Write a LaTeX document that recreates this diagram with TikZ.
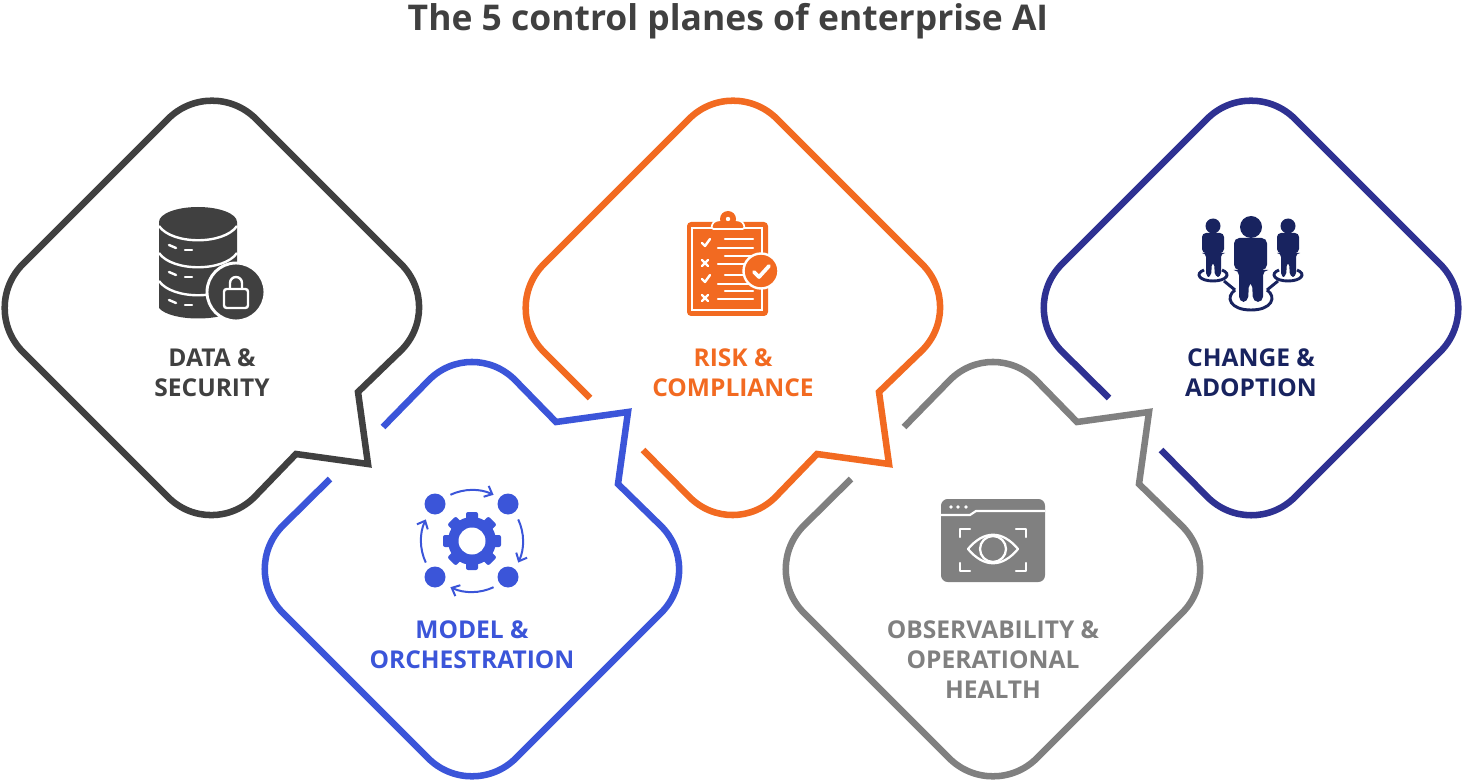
\documentclass[tikz,border=0pt]{standalone}
\usepackage{fontspec}
\usetikzlibrary{arrows.meta}
\setmainfont{Open Sans}
\definecolor{darkc}{HTML}{404040}
\definecolor{bluec}{HTML}{3B55D9}
\definecolor{orangec}{HTML}{F26A21}
\definecolor{greyc}{HTML}{808080}
\definecolor{navyc}{HTML}{2E3192}
\definecolor{navyt}{HTML}{18235F}
\tikzset{
  plane/.style={line width=4.9pt,miter limit=10,line join=miter},
  planetext/.style={align=center,font=\fontsize{18.4}{22.5}\selectfont\bfseries,inner sep=0pt},
  cut/.style={draw=white,line width=1.8pt,line cap=round,line join=round},
}
\begin{document}
\begin{tikzpicture}[x=0.75pt,y=-0.75pt]
  \useasboundingbox (0,0) rectangle (1463,780);
  \node[font=\fontsize{26.6}{32}\selectfont\bfseries,text=darkc,inner sep=0pt] (title) at (728,21) {The 5 control planes of enterprise AI};

  % outlines
  \draw[plane,draw=darkc,rounded corners=46.5pt] (212,75) -- (445,308) [sharp corners] -- (358,392) -- (368,464) -- (296,454) [rounded corners=46.5pt] -- (212,541) -- (-21,308) -- cycle;
  \draw[plane,draw=orangec,rounded corners=46.5pt] (590,398) -- (500,308) -- (733,75) -- (966,308) [sharp corners] -- (879,392) -- (889,464) -- (817,454) [rounded corners=46.5pt] -- (733,541) -- (643,450);
  \draw[plane,draw=navyc,rounded corners=46.5pt] (1109,398) -- (1018,308) -- (1251,75) -- (1484,308) -- (1251,541) -- (1161,450);
  \draw[plane,draw=bluec,rounded corners=46.5pt] (383,427) -- (472,336) [sharp corners] -- (556,422) -- (628,412) -- (618,484) [rounded corners=46.5pt] -- (705,569) -- (472,802) -- (239,569) -- (330,479);
  \draw[plane,draw=greyc,rounded corners=46.5pt] (904,427) -- (993,336) [sharp corners] -- (1077,422) -- (1149,412) -- (1139,484) [rounded corners=46.5pt] -- (1226,569) -- (993,802) -- (760,569) -- (851,479);

  % labels
  \node[planetext,text=darkc] (data) at (212,373) {DATA \&\\SECURITY};
  \node[planetext,text=orangec] (risk) at (733,373) {RISK \&\\COMPLIANCE};
  \node[planetext,text=navyt] (change) at (1251,373) {CHANGE \&\\ADOPTION};
  \node[planetext,text=bluec] (model) at (472,645) {MODEL \&\\ORCHESTRATION};
  \node[planetext,text=greyc] (health) at (993,660) {OBSERVABILITY \&\\OPERATIONAL\\HEALTH};

  % database icon
  \fill[darkc] (159,222) -- (237,222) -- (237,308) .. controls (225,322) and (171,322) .. (159,308) -- cycle;
  \fill[darkc] (198,222) ellipse[x radius=39,y radius=15];
  \foreach \y in {226,253,281} {
    \draw[white,line width=1.8pt] (159,\y) .. controls (172,\y+19) and (224,\y+19) .. (237,\y);
    \draw[cut] (169,\y+19) -- (176,\y+22);
    \draw[cut] (185,\y+24) -- (192,\y+24);
  }
  \fill[darkc,draw=white,line width=2.2pt] (236,292) circle[radius=29];
  \draw[white,line width=1.8pt,rounded corners=2pt] (224,289) rectangle (248,308);
  \draw[white,line width=1.8pt] (230,289) -- (230,283) arc[start angle=180,end angle=360,radius=6] -- (242,289);

  % clipboard icon
  \fill[orangec,rounded corners=3pt] (687,222) rectangle (768,316);
  \draw[white,line width=1.3pt] (692,228) rectangle (762,310);
  \fill[orangec,draw=white,line width=1.3pt,rounded corners=2pt] (711,229) -- (713,222) -- (719,220) -- (737,220) -- (743,222) -- (745,229) -- cycle;
  \fill[orangec] (728,219) circle[radius=8];
  \fill[white] (728,219) circle[radius=2.2];
  \foreach \y in {241,277} {
    \draw[cut] (702,\y+2) -- (705,\y+5) -- (710,\y-2);
    \draw[cut] (725,\y-2) -- (753,\y-2);
    \draw[cut] (718,\y+7) -- (753,\y+7);
  }
  \foreach \y in {261,296} {
    \draw[cut] (702,\y-1) -- (708,\y+5);
    \draw[cut] (708,\y-1) -- (702,\y+5);
    \draw[cut] (725,\y-5) -- (753,\y-5);
    \draw[cut] (718,\y+3) -- (753,\y+3);
  }
  \fill[orangec,draw=white,line width=1.8pt] (761,271) circle[radius=17.5];
  \draw[white,line width=2.8pt,line cap=round,line join=round] (754,272) -- (759,277) -- (769,266);

  % people icon
  \fill[navyt] (1251,227) circle[radius=11];
  \fill[navyt] (1213,226) circle[radius=7.5];
  \fill[navyt] (1288,226) circle[radius=7.5];
  \fill[navyt,rounded corners=4pt] (1234,270) -- (1234,238) -- (1267,238) -- (1267,270) -- (1263,270) -- (1263,302) -- (1253,302) -- (1252,282) -- (1249,282) -- (1248,302) -- (1239,302) -- (1239,270) -- cycle;
  \fill[navyt,rounded corners=3pt] (1202,253) -- (1202,233) -- (1224,233) -- (1224,253) -- (1221,253) -- (1221,277) -- (1215,277) -- (1214,262) -- (1212,262) -- (1211,277) -- (1206,277) -- (1206,253) -- cycle;
  \fill[navyt,rounded corners=3pt] (1277,253) -- (1277,233) -- (1299,233) -- (1299,253) -- (1296,253) -- (1296,277) -- (1290,277) -- (1289,262) -- (1287,262) -- (1286,277) -- (1281,277) -- (1281,253) -- cycle;
  \draw[navyt,line width=2.2pt] (1204,270) .. controls (1194,274) and (1200,281) .. (1213,281) .. controls (1226,281) and (1232,274) .. (1222,270);
  \draw[navyt,line width=2.2pt] (1279,270) .. controls (1269,274) and (1275,281) .. (1288,281) .. controls (1301,281) and (1307,274) .. (1297,270);
  \draw[navyt,line width=2.2pt] (1235,290) .. controls (1225,297) and (1230,310) .. (1251,310) .. controls (1272,310) and (1277,297) .. (1267,290);
  \draw[navyt,line width=2.2pt] (1224,281) -- (1235,290);
  \draw[navyt,line width=2.2pt] (1278,281) -- (1267,290);

  % gear icon
  \foreach \a in {0,45,...,315} {
    \fill[bluec,rotate around={\a:(472,541)},rounded corners=1.5pt] (466,512) rectangle (478,525);
  }
  \fill[bluec] (472,541) circle[radius=24];
  \fill[white] (472,541) circle[radius=13.5];
  \foreach \x/\y in {435/504,508/504,435/577,508/577} {
    \fill[bluec] (\x,\y) circle[radius=10.5];
  }
  \foreach \a in {115,25,-65,-155} {
    \draw[bluec,line width=1.5pt,-{Straight Barb[length=5pt,width=9pt]}] ({472+51*cos(\a)},{541-51*sin(\a)}) arc[start angle=-\a,delta angle=50,radius=51];
  }

  % window icon
  \fill[greyc,rounded corners=5pt] (941,499) rectangle (1045,582);
  \draw[white,line width=1.6pt] (941,515) -- (970,515) -- (976,511) -- (1045,511);
  \foreach \x in {951,958,966} {
    \fill[white] (\x,507) circle[radius=1.8];
  }
  \draw[cut] (970,529) -- (960,529) -- (960,537);
  \draw[cut] (1016,529) -- (1026,529) -- (1026,537);
  \draw[cut] (970,571) -- (960,571) -- (960,563);
  \draw[cut] (1016,571) -- (1026,571) -- (1026,563);
  \draw[white,line width=1.7pt,line join=round] (968,549) .. controls (984,530) and (1002,530) .. (1018,549) .. controls (1002,568) and (984,568) .. (968,549) -- cycle;
  \draw[white,line width=1.7pt] (993,549) circle[radius=13];
\end{tikzpicture}
\end{document}
